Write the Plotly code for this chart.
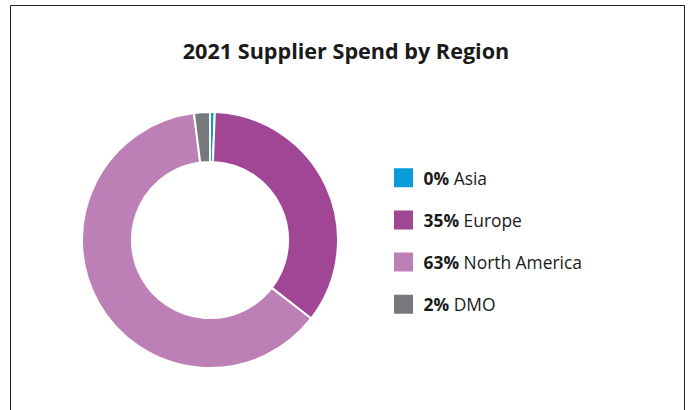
import plotly.graph_objects as go

# Data
regions = ["Asia", "Europe", "North America", "DMO"]
shares = [0.6, 34.9, 62.5, 2.0]
share_labels = ["0%", "35%", "63%", "2%"]
colors = ["#0a9bd9", "#a14695", "#bc80b7", "#77787b"]

W, H = 690, 410

def px(x):
    return x / W

def py(y):
    return 1 - y / H

fig = go.Figure()

fig.add_trace(go.Pie(
    labels=regions,
    values=shares,
    sort=False,
    direction="clockwise",
    rotation=0,
    hole=0.61,
    marker=dict(colors=colors, line=dict(color="white", width=2)),
    textinfo="none",
    hoverinfo="label+percent",
    showlegend=False,
    domain=dict(x=[px(82), px(338)], y=[py(368), py(112)]),
))

# Legend entries built from the same data
for i, (reg, lab, col) in enumerate(zip(regions, share_labels, colors)):
    fig.add_trace(go.Scatter(
        x=[None], y=[None],
        mode="markers",
        marker=dict(symbol="square", size=16, color=col,
                    line=dict(color=col, width=3)),
        name=f"<b>{lab}</b> {reg}",
        legendgroup=f"g{i}",
        showlegend=True,
        hoverinfo="skip",
    ))

fig.update_layout(
    width=W, height=H,
    margin=dict(l=0, r=0, t=0, b=0),
    paper_bgcolor="white",
    plot_bgcolor="white",
    font=dict(family="Open Sans, sans-serif", color="#1a1a1a"),
    title=dict(
        text="<b>2021 Supplier Spend by Region</b>",
        x=px(346), xanchor="center",
        y=py(51), yanchor="middle", yref="container",
        font=dict(size=21.6, color="#1a1a1a"),
    ),
    xaxis=dict(visible=False),
    yaxis=dict(visible=False),
    legend=dict(
        x=px(383.5), xanchor="left",
        y=py(241), yanchor="middle",
        font=dict(size=17.4, color="#1a1a1a"),
        tracegroupgap=16.5,
        bgcolor="rgba(0,0,0,0)",
    ),
    shapes=[dict(
        type="rect", xref="paper", yref="paper",
        x0=px(10.5), x1=px(684.5), y0=-0.2, y1=py(5.5),
        line=dict(color="#222222", width=1),
    )],
)

fig.write_html(
    "out.html",
    config={"displayModeBar": False},
    post_script="document.body.style.margin='0px';document.body.style.overflow='hidden';",
)
